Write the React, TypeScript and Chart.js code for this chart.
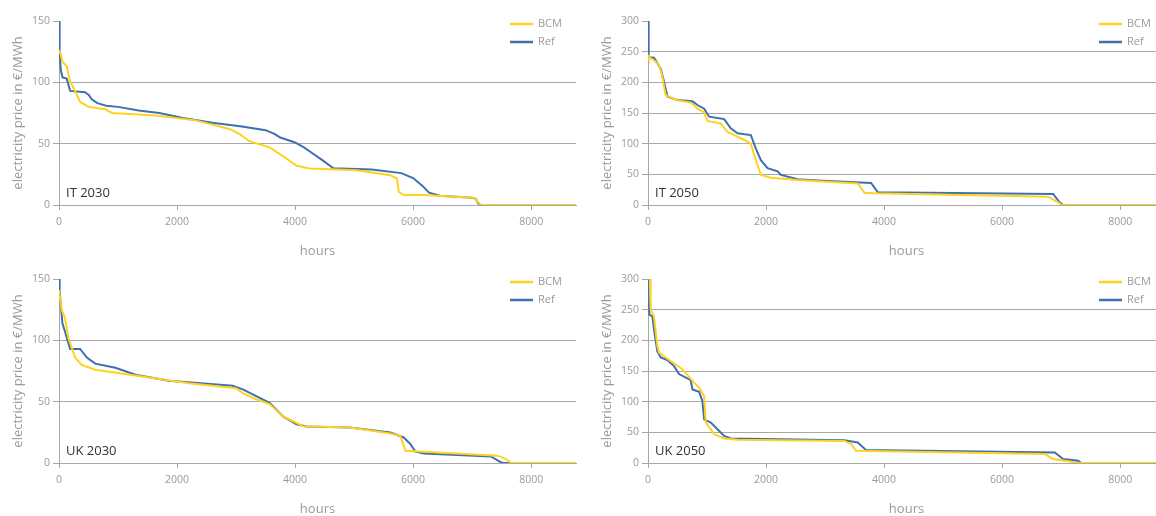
import React, { useEffect, useRef } from "react";
import { Chart, registerables } from "chart.js";

Chart.register(...registerables);

// ---------- data ----------
const seriesNames = ["BCM", "Ref"];
const xTickValues = [0, 2000, 4000, 6000, 8000];
const yTicksLow = [0, 50, 100, 150];
const yTicksHigh = [0, 50, 100, 150, 200, 250, 300];
const hoursMax = 8760;

// IT 2030
const it2030BcmHours = [0, 17, 57, 131, 188, 273, 358, 500, 784, 898, 1636, 2318, 2886, 3057, 3227, 3568, 3852, 4023, 4250, 5045, 5614, 5727, 5756, 5841, 6182, 7034, 7119, 7148, 8760];
const it2030BcmPrice = [126, 125, 117, 113, 101, 93, 84, 80, 78, 75, 73, 69, 62, 58, 52, 47, 38, 32, 29.7, 28.4, 24.3, 21.6, 10.8, 8.1, 8.1, 6, 1.4, 0, 0];
const it2030RefHours = [0, 10, 30, 60, 130, 190, 440, 500, 560, 650, 800, 1000, 1350, 1700, 1900, 2100, 2600, 3100, 3500, 3650, 3750, 4000, 4150, 4300, 4450, 4650, 5300, 5800, 6000, 6150, 6270, 6450, 7000, 7060, 7120, 8760];
const it2030RefPrice = [150, 125, 110, 104, 103, 93, 92, 90, 86, 83, 81, 80, 77, 75, 73, 71, 67, 64, 61, 58, 55, 51, 47, 42, 37, 30, 29, 26, 22, 16, 10, 7.5, 6, 5, 0, 0];

// IT 2050
const it2050BcmHours = [0, 11, 102, 187, 243, 300, 498, 724, 838, 951, 1007, 1234, 1347, 1460, 1630, 1743, 1800, 1913, 2083, 2535, 3554, 3667, 3837, 6780, 6950, 7006, 8760];
const it2050BcmPrice = [245, 241, 236, 228, 209, 179, 171, 167, 157, 151, 137, 133, 119, 114, 106, 100, 81, 49, 44.5, 40.7, 35, 20, 19, 13.6, 4.3, 0, 0];
const it2050RefHours = [0, 11, 102, 158, 215, 272, 328, 498, 753, 838, 951, 1036, 1290, 1403, 1517, 1743, 1828, 1913, 2026, 2196, 2252, 2535, 2875, 3780, 3894, 6865, 6978, 7034, 8760];
const it2050RefPrice = [300, 241, 240, 231, 222, 201, 177, 171, 169, 163, 157, 144, 140, 125, 117, 114, 92, 73, 60, 55, 49, 42, 40, 36, 20.6, 18, 4, 0, 0];

// UK 2030
const uk2030BcmHours = [0, 45, 102, 159, 273, 386, 614, 1352, 2205, 3000, 3114, 3341, 3568, 3795, 4136, 4932, 5614, 5784, 5869, 6182, 7432, 7574, 7659, 8760];
const uk2030BcmPrice = [141, 125, 118, 102, 86, 80, 76, 71, 65, 61, 57, 52, 48, 38, 30, 29, 24, 22, 10, 9.2, 6, 3.2, 0, 0];
const uk2030RefHours = [0, 11, 57, 102, 188, 358, 472, 614, 955, 1295, 1864, 2943, 3114, 3341, 3568, 3795, 4023, 4193, 4932, 5614, 5841, 5955, 6040, 6182, 7318, 7489, 7545, 8760];
const uk2030RefPrice = [150, 140, 114, 107, 93, 93, 86, 81, 77.6, 72, 67, 63, 60, 54.6, 49, 38, 31.6, 29.7, 29, 24.9, 20.8, 15.4, 9.2, 7.8, 5.4, 0.5, 0, 0];

// UK 2050
const uk2050BcmHours = [34, 45, 102, 158, 187, 328, 583, 781, 866, 951, 979, 1121, 1290, 1517, 3328, 3441, 3526, 6723, 6865, 7176, 7233, 8760];
const uk2050BcmPrice = [300, 250, 239, 191, 180, 170, 153, 131, 123, 109, 66, 47, 40, 38, 36, 31, 20, 14.6, 6.5, 2, 0, 0];
const uk2050RefHours = [0, 23, 74, 102, 158, 215, 328, 441, 526, 724, 753, 866, 922, 951, 1064, 1177, 1290, 1403, 3328, 3554, 3696, 6893, 7034, 7289, 7346, 8760];
const uk2050RefPrice = [299, 242, 239, 218, 182, 172, 168, 158, 145, 135, 120, 116, 101, 71, 66, 55, 44, 40, 37, 33.6, 21, 17, 6.5, 3.8, 0, 0];

const panelTitles = ["IT 2030", "IT 2050", "UK 2030", "UK 2050"];

// ---------- styling / layout ----------
const BCM_COLOR = "#FFD21F";
const REF_COLOR = "#3E70B0";
const GRID_COLOR = "#a8a8a8";
const TEXT_GRAY = "#9a9a9a";
const FONT = '"Open Sans", "DejaVu Sans", sans-serif';

const CANVAS_W = 590;
const CANVAS_H = 258;

type Panel = {
  title: string;
  bcmHours: number[];
  bcmPrice: number[];
  refHours: number[];
  refPrice: number[];
  yMax: number;
  yTicks: number[];
};

const panels: Panel[] = [
  { title: panelTitles[0], bcmHours: it2030BcmHours, bcmPrice: it2030BcmPrice, refHours: it2030RefHours, refPrice: it2030RefPrice, yMax: 150, yTicks: yTicksLow },
  { title: panelTitles[1], bcmHours: it2050BcmHours, bcmPrice: it2050BcmPrice, refHours: it2050RefHours, refPrice: it2050RefPrice, yMax: 300, yTicks: yTicksHigh },
  { title: panelTitles[2], bcmHours: uk2030BcmHours, bcmPrice: uk2030BcmPrice, refHours: uk2030RefHours, refPrice: uk2030RefPrice, yMax: 150, yTicks: yTicksLow },
  { title: panelTitles[3], bcmHours: uk2050BcmHours, bcmPrice: uk2050BcmPrice, refHours: uk2050RefHours, refPrice: uk2050RefPrice, yMax: 300, yTicks: yTicksHigh },
];

const positions = [
  { left: 0, top: 0 },
  { left: 589, top: 0 },
  { left: 0, top: 258 },
  { left: 589, top: 258 },
];

const overlayPlugin = {
  id: "overlay",
  afterDraw(chart: any, _args: any, opts: any) {
    const ctx = chart.ctx;
    const area = chart.chartArea;
    ctx.save();
    const colors = [BCM_COLOR, REF_COLOR];
    seriesNames.forEach((name, i) => {
      const y = 24 + i * 18;
      const x0 = area.left + 451;
      ctx.strokeStyle = colors[i];
      ctx.lineWidth = 2.5;
      ctx.beginPath();
      ctx.moveTo(x0, y);
      ctx.lineTo(x0 + 23, y);
      ctx.stroke();
      ctx.fillStyle = TEXT_GRAY;
      ctx.font = `11px ${FONT}`;
      ctx.textBaseline = "middle";
      ctx.textAlign = "left";
      ctx.fillText(name, x0 + 28, y);
    });
    ctx.fillStyle = "#333333";
    ctx.font = `13px ${FONT}`;
    ctx.textBaseline = "middle";
    ctx.textAlign = "left";
    ctx.fillText(opts.label, area.left + 7, area.bottom - 12);
    ctx.restore();
  },
};

function toPoints(h: number[], p: number[]) {
  return h.map((x, i) => ({ x, y: p[i] }));
}

function PanelChart({ panel }: { panel: Panel }) {
  const ref = useRef<HTMLCanvasElement | null>(null);
  useEffect(() => {
    if (!ref.current) return;
    const chart = new Chart(ref.current, {
      type: "line",
      data: {
        datasets: [
          {
            label: seriesNames[0],
            data: toPoints(panel.bcmHours, panel.bcmPrice),
            borderColor: BCM_COLOR,
            backgroundColor: BCM_COLOR,
            borderWidth: 2,
            pointRadius: 0,
            tension: 0,
          },
          {
            label: seriesNames[1],
            data: toPoints(panel.refHours, panel.refPrice),
            borderColor: REF_COLOR,
            backgroundColor: REF_COLOR,
            borderWidth: 2,
            pointRadius: 0,
            tension: 0,
          },
        ],
      },
      options: {
        animation: false,
        responsive: false,
        events: [],
        layout: { padding: { top: 21, right: 14, left: 0, bottom: 0 } },
        plugins: {
          legend: { display: false },
          tooltip: { enabled: false },
          overlay: { label: panel.title },
        } as any,
        scales: {
          x: {
            type: "linear",
            min: 0,
            max: hoursMax,
            afterBuildTicks: (scale: any) => {
              scale.ticks = xTickValues.map((v) => ({ value: v }));
            },
            afterFit: (scale: any) => {
              scale.height = 53;
            },
            grid: {
              drawOnChartArea: false,
              drawTicks: true,
              tickLength: 5,
              color: GRID_COLOR,
              tickColor: GRID_COLOR,
            },
            border: { color: GRID_COLOR, width: 1 },
            ticks: {
              color: TEXT_GRAY,
              font: { family: FONT, size: 10.5 },
              padding: 6,
              maxRotation: 0,
              callback: (v: any) => String(v),
            },
            title: {
              display: true,
              text: "hours",
              color: TEXT_GRAY,
              font: { family: FONT, size: 13, lineHeight: 1.0 },
              padding: { top: 0, bottom: 0 },
            },
          },
          y: {
            type: "linear",
            min: 0,
            max: panel.yMax,
            afterBuildTicks: (scale: any) => {
              scale.ticks = panel.yTicks.map((v) => ({ value: v }));
            },
            afterFit: (scale: any) => {
              scale.width = 59;
            },
            grid: {
              drawOnChartArea: true,
              drawTicks: true,
              tickLength: 6,
              color: (c: any) => (c.tick && c.tick.value === panel.yMax ? "rgba(0,0,0,0)" : GRID_COLOR),
              tickColor: GRID_COLOR,
            },
            border: { color: GRID_COLOR, width: 1 },
            ticks: {
              color: TEXT_GRAY,
              font: { family: FONT, size: 10.5 },
              padding: 3,
              callback: (v: any) => String(v),
            },
            title: {
              display: true,
              text: "electricity price in €/MWh",
              color: TEXT_GRAY,
              font: { family: FONT, size: 13 },
              padding: { top: 10, bottom: 0 },
            },
          },
        },
      },
      plugins: [overlayPlugin as any],
    } as any);
    return () => chart.destroy();
  }, [panel]);
  return <canvas ref={ref} width={CANVAS_W} height={CANVAS_H} style={{ display: "block" }} />;
}

export default function App() {
  return (
    <div
      style={{
        position: "fixed",
        left: 0,
        top: 0,
        width: 1156,
        height: 516,
        overflow: "hidden",
        background: "#ffffff",
      }}
    >
      {panels.map((p, i) => (
        <div
          key={p.title}
          style={{ position: "absolute", left: positions[i].left, top: positions[i].top, width: CANVAS_W, height: CANVAS_H }}
        >
          <PanelChart panel={p} />
        </div>
      ))}
    </div>
  );
}
